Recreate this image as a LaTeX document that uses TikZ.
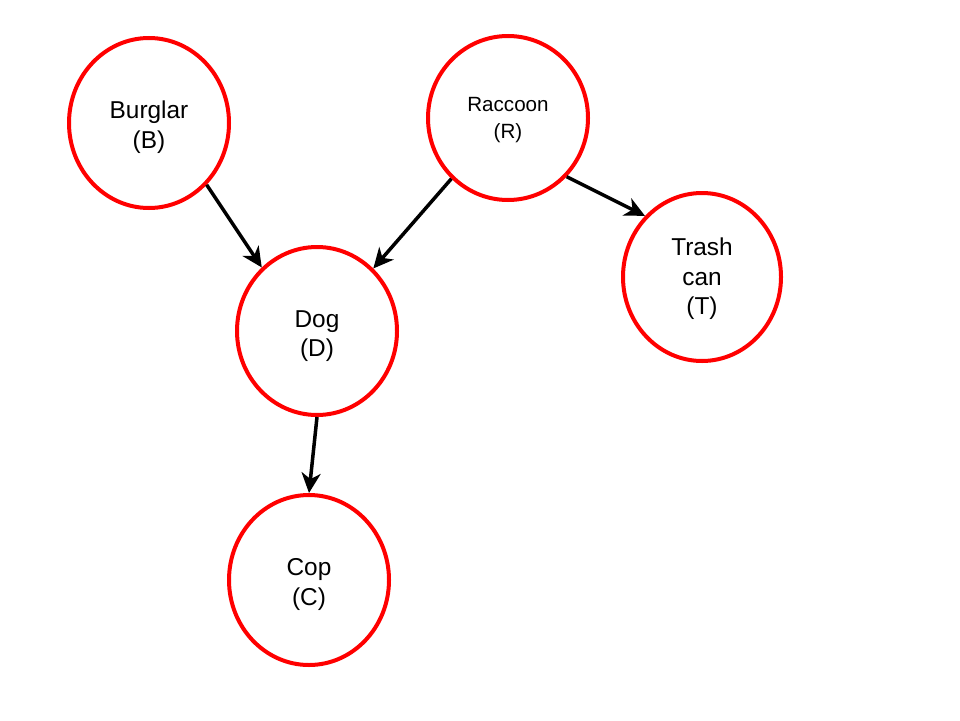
\documentclass[tikz,border=0pt]{standalone}
\usepackage{fontspec}
\setmainfont{Liberation Sans}
\usetikzlibrary{shapes.geometric,arrows.meta}
\newcommand{\mystrut}[1]{\rule{0pt}{#1}}
\begin{document}
\begin{tikzpicture}[x=1pt,y=-1pt,
  bnode/.style={draw=red,line width=4pt,ellipse,inner sep=0pt,align=center,
     font=\fontsize{24.4}{29.5}\selectfont,fill=white},
  edge/.style={line width=3.5pt,-{Stealth[length=20pt,width=19pt,inset=6pt]}}]
\useasboundingbox[fill=white] (0,0) rectangle (960,720);
\node[bnode,minimum width=160pt,minimum height=170pt] (B) at (149,123) {\mystrut{26pt}Burglar\\(B)};
\node[bnode,minimum width=160pt,minimum height=164pt,font=\fontsize{20.6}{27}\selectfont] (R) at (508,118) {\mystrut{19pt}Raccoon\\(R)};
\node[bnode,minimum width=158pt,minimum height=168pt] (T) at (702,277) {\mystrut{22pt}Trash\\can\\(T)};
\node[bnode,minimum width=160pt,minimum height=168pt] (D) at (317,331) {\mystrut{27.5pt}Dog\\(D)};
\node[bnode,minimum width=160pt,minimum height=170pt] (C) at (309,580) {\mystrut{26pt}Cop\\(C)};
\draw[edge] (B.-47) -- (D.131);
\draw[edge] (R.-133) -- (D.48);
\draw[edge] (R.-45) -- (T.133);
\draw[edge] (D.-90) -- (C.90);
\end{tikzpicture}
\end{document}
